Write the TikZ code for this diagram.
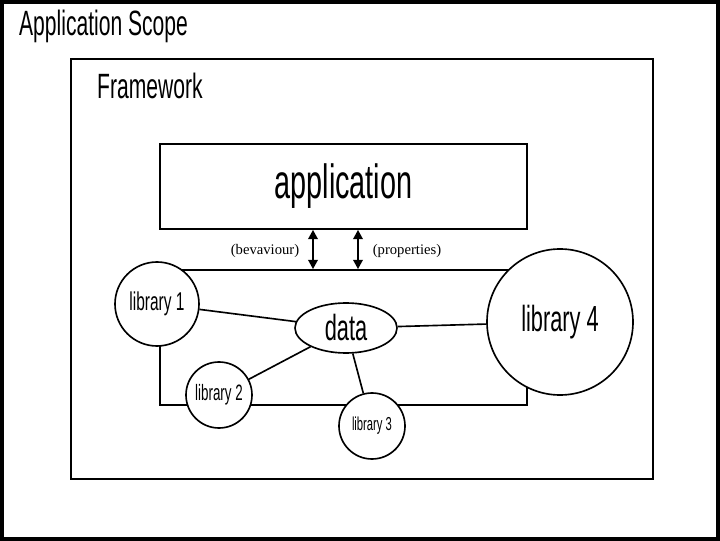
\documentclass[tikz,border=0pt]{standalone}
\usepackage{fontspec}
\setmainfont{Liberation Sans}[FakeStretch=0.6]
\newfontfamily\labelfont{Liberation Serif}
\usetikzlibrary{arrows.meta,positioning,shapes.geometric,backgrounds}

\begin{document}
\begin{tikzpicture}[x=0.03cm,y=-0.03cm,
  lib/.style={circle,draw,line width=1.4pt,fill=white,inner sep=0pt},
  box/.style={draw,line width=1.4pt,inner sep=0pt},
  link/.style={line width=1.4pt},
  twoway/.style={{Triangle[length=8pt,width=8pt]}-{Triangle[length=8pt,width=8pt]},line width=2.4pt},
  lbl/.style={font=\labelfont\fontsize{12.5}{14}\selectfont},
  title/.style={anchor=base west,font=\fontsize{30}{34}\selectfont}]
  \useasboundingbox (0,0) rectangle (720,541);
  % outer frames
  \draw[line width=3.4pt] (2,2) rectangle (718,539);
  \node[title] (scope) at (15,36) {Application Scope};
  \draw[line width=1.4pt] (71,59) rectangle (653,479);
  \node[title] (fw) at (93,99) {Framework};
  % application and the library block
  \node[box,minimum width=11.01cm,minimum height=2.55cm,font=\fontsize{41}{45}\selectfont] (app) at (343.5,186.5) {application};
  \node[box,minimum width=11.01cm,minimum height=4.05cm] (core) at (343.5,337.5) {};
  \node[lib,minimum size=2.52cm,font=\fontsize{22}{25}\selectfont] (lib1) at (157,304) {library 1};
  \node[lib,minimum size=1.98cm,font=\fontsize{19}{22}\selectfont] (lib2) at (219,395) {library 2};
  \node[lib,minimum size=1.98cm,font=\fontsize{16}{18}\selectfont] (lib3) at (372,426) {library 3};
  \node[lib,minimum size=4.38cm,font=\fontsize{31}{34}\selectfont] (lib4) at (560,322) {library 4};
  \node[lib,ellipse,minimum width=3.06cm,minimum height=1.5cm,font=\fontsize{31}{34}\selectfont] (data) at (346,328) {data};
  \begin{scope}[on background layer]
    \draw[link] (lib1) -- (data);
    \draw[link] (lib2) -- (data);
    \draw[link] (lib3) -- (data);
    \draw[link] (data) -- (lib4);
  \end{scope}
  % calls between application and libraries
  \draw[twoway] (app.south -| 313,0) -- (core.north -| 313,0);
  \draw[twoway] (app.south -| 358,0) -- (core.north -| 358,0);
  \node[lbl] (behav) at (265,251) {(bevaviour)};
  \node[lbl] (props) at (407,251) {(properties)};
\end{tikzpicture}
\end{document}
